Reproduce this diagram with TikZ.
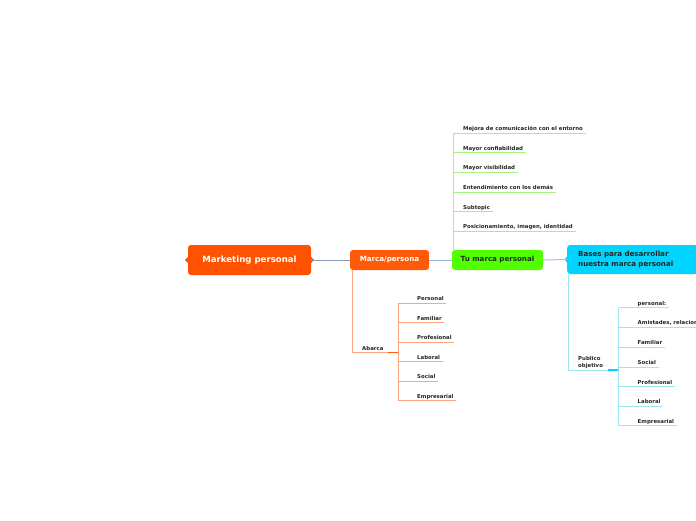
\documentclass[tikz,border=0pt]{standalone}
\usepackage{fontspec}
\setmainfont{DejaVu Sans}
\usepackage{tikz}
\usetikzlibrary{positioning}
\definecolor{mporange}{HTML}{FF5200}
\definecolor{mcorange}{HTML}{FF5A08}
\definecolor{tugreen}{HTML}{50FF00}
\definecolor{bacyan}{HTML}{00D4FF}
\definecolor{olight}{HTML}{FFA47E}
\definecolor{glight}{HTML}{A6F27E}
\definecolor{clight}{HTML}{9FE6F5}
\definecolor{linkone}{HTML}{8A9AB8}
\definecolor{linktwo}{HTML}{9AB4E0}
\definecolor{linkthree}{HTML}{B4B4F6}
\tikzstyle{topic} = [rectangle, rounded corners=3pt, inner sep=0pt, font=\bfseries\fontsize{7.1}{9.5}\selectfont]
\tikzstyle{leaf} = [anchor=south west, inner xsep=2.5pt, inner ysep=2.5pt, text depth=0pt, font=\bfseries\fontsize{5.4}{6.5}\selectfont, text=black!85]
\tikzstyle{oline} = [draw=olight, line width=0.8pt]
\tikzstyle{gline} = [draw=glight, line width=0.8pt]
\tikzstyle{cline} = [draw=clight, line width=0.8pt]

\begin{document}
\begin{tikzpicture}[x=1pt, y=-1pt]
		\useasboundingbox (0,0) rectangle (696,520);
		% central topics
		\node (mp) [topic, fill=mporange, text=white, minimum width=123pt, minimum height=30pt, font=\bfseries\fontsize{8.6}{10}\selectfont] at (249.5,260) {Marketing personal};
		\node (mc) [topic, fill=mcorange, text=white, minimum width=79pt, minimum height=20pt] at (389.5,260) {Marca/persona};
		\node (tu) [topic, fill=tugreen, text=black!85, minimum width=91pt, minimum height=20pt] at (497.5,260) {Tu marca personal};
		\node (ba) [topic, fill=bacyan, text=black!85, anchor=west, minimum height=29pt, inner xsep=11pt, text width=118pt, align=left] at (567,259.5) {Bases para desarrollar\\nuestra marca personal};
		\fill [mporange] (mp.west) ++(0,-3) -- ++(-3,3) -- ++(3,3) -- cycle;
		\fill [mporange] (mp.east) ++(0,-3) -- ++(3,3) -- ++(-3,3) -- cycle;
		\fill [bacyan] (ba.west) ++(0,-3) -- ++(-2.5,3) -- ++(2.5,3) -- cycle;
		\draw [draw=linkone, line width=1pt] (mp.east) -- (mc.west);
		\draw [draw=linktwo, line width=1pt] (mc.east) -- (tu.west);
		\draw [draw=linkthree, line width=1pt] (tu.east) -- (ba.west);

		% Tu marca personal
		\coordinate (gtop) at (453,133);
		\draw [gline] (gtop) -- (gtop |- tu.north);
		\node (g1) [leaf] at (460.5,133) {Mejora de comunicación con el entorno};
		\node (g2) [leaf] at (460.5,152.7) {Mayor confiabilidad};
		\node (g3) [leaf] at (460.5,172.3) {Mayor visibilidad};
		\node (g4) [leaf] at (460.5,192) {Entendimiento con los demás};
		\node (g5) [leaf] at (460.5,211.7) {Subtopic};
		\node (g6) [leaf] at (460.5,231) {Posicionamiento, imagen, identidad};
		\draw [gline] (gtop |- g1.south) -- (g1.south east);
		\draw [gline] (gtop |- g2.south) -- (g2.south east);
		\draw [gline] (gtop |- g3.south) -- (g3.south east);
		\draw [gline] (gtop |- g4.south) -- (g4.south east);
		\draw [gline] (gtop |- g5.south) -- (g5.south east);
		\draw [gline] (gtop |- g6.south) -- (g6.south east);

		% Marca/persona
		\coordinate (otrunk) at (352.3,352.7);
		\node (ab) [leaf] at (359.5,352.7) {Abarca};
		\coordinate (osub) at (398.3,352.7);
		\draw [oline] (otrunk |- mc.south) -- (otrunk) -- (osub);
		\draw [draw=mcorange, line width=1.4pt] (388,352.7) -- (osub);
		\node (o1) [leaf] at (414.5,303.3) {Personal};
		\node (o2) [leaf] at (414.5,322.7) {Familiar};
		\node (o3) [leaf] at (414.5,342) {Profesional};
		\node (o4) [leaf] at (414.5,361.7) {Laboral};
		\node (o5) [leaf] at (414.5,381) {Social};
		\node (o6) [leaf] at (414.5,400.7) {Empresarial};
		\draw [oline] (osub |- o1.south) -- (osub |- o6.south);
		\draw [oline] (osub |- o1.south) -- (o1.south east);
		\draw [oline] (osub |- o2.south) -- (o2.south east);
		\draw [oline] (osub |- o3.south) -- (o3.south east);
		\draw [oline] (osub |- o4.south) -- (o4.south east);
		\draw [oline] (osub |- o5.south) -- (o5.south east);
		\draw [oline] (osub |- o6.south) -- (o6.south east);

		% Bases para desarrollar
		\coordinate (ctrunk) at (568,370);
		\node (po) [leaf, align=left] at (575.5,370) {Publico\\objetivo};
		\coordinate (csub) at (618.5,370);
		\draw [cline] (ctrunk |- ba.south) -- (ctrunk) -- (csub);
		\draw [draw=bacyan, line width=1.4pt] (608,370) -- (csub);
		\node (c1) [leaf] at (635,307.7) {personal:};
		\node (c2) [leaf] at (635,327.3) {Amistades, relaciones};
		\node (c3) [leaf] at (635,347.3) {Familiar};
		\node (c4) [leaf] at (635,367) {Social};
		\node (c5) [leaf] at (635,386.7) {Profesional};
		\node (c6) [leaf] at (635,406.3) {Laboral};
		\node (c7) [leaf] at (635,425.7) {Empresarial};
		\draw [cline] (csub |- c1.south) -- (csub |- c7.south);
		\draw [cline] (csub |- c1.south) -- (c1.south east);
		\draw [cline] (csub |- c2.south) -- (c2.south east);
		\draw [cline] (csub |- c3.south) -- (c3.south east);
		\draw [cline] (csub |- c4.south) -- (c4.south east);
		\draw [cline] (csub |- c5.south) -- (c5.south east);
		\draw [cline] (csub |- c6.south) -- (c6.south east);
		\draw [cline] (csub |- c7.south) -- (c7.south east);
\end{tikzpicture}
\end{document}
